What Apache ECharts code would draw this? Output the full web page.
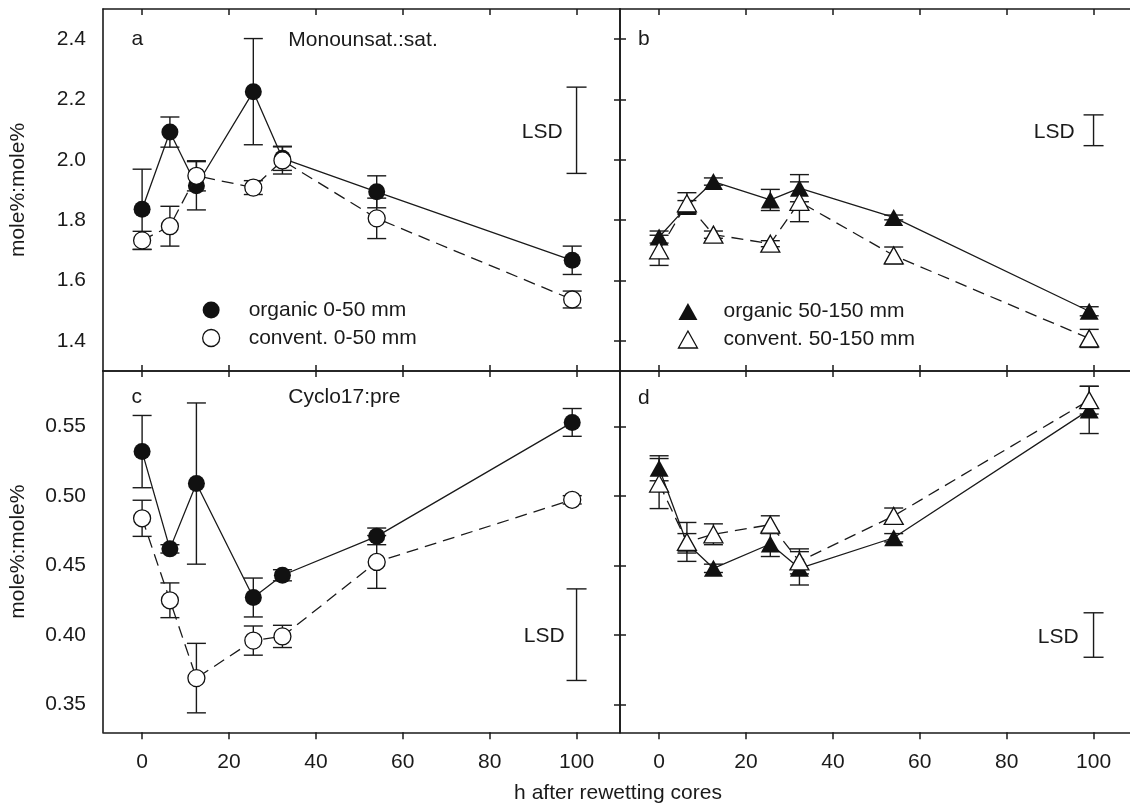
<!DOCTYPE html>
<html>
<head>
<meta charset="utf-8">
<script src="https://cdn.jsdelivr.net/npm/echarts@6/dist/echarts.min.js"></script>
<style>
html,body{margin:0;padding:0;background:#fff;}
#chart{width:1130px;height:805px;}
</style>
</head>
<body>
<div id="chart"></div>
<script>
// ---- data ----
const hours = [0, 6.4, 12.5, 25.6, 32.3, 54, 99];
const xTicks = [0, 20, 40, 60, 80, 100];
const yTicksTop = [1.4, 1.6, 1.8, 2.0, 2.2, 2.4];
const yTicksBottom = [0.35, 0.40, 0.45, 0.50, 0.55];

// panel a: Monounsat.:sat., 0-50 mm
const orgA = [1.836, 2.092, 1.914, 2.226, 2.005, 1.894, 1.667];
const orgAErr = [0.133, 0.05, 0.08, 0.176, 0.04, 0.053, 0.047];
const conA = [1.733, 1.780, 1.947, 1.908, 1.998, 1.806, 1.537];
const conAErr = [0.03, 0.066, 0.05, 0.023, 0.045, 0.067, 0.028];
// panel b: Monounsat.:sat., 50-150 mm
const orgB = [1.744, 1.845, 1.928, 1.867, 1.906, 1.809, 1.498];
const orgBErr = [0.02, 0.02, 0.012, 0.035, 0.045, 0.008, 0.015];
const conB = [1.700, 1.856, 1.752, 1.722, 1.861, 1.683, 1.408];
const conBErr = [0.05, 0.035, 0.012, 0.01, 0.066, 0.028, 0.03];
// panel c: Cyclo17:pre, 0-50 mm
const orgC = [0.532, 0.462, 0.509, 0.427, 0.443, 0.471, 0.553];
const orgCErr = [0.026, 0.003, 0.058, 0.014, 0.004, 0.006, 0.01];
const conC = [0.484, 0.425, 0.369, 0.396, 0.399, 0.4526, 0.4973];
const conCErr = [0.013, 0.0125, 0.025, 0.0105, 0.008, 0.019, 0.003];
// panel d: Cyclo17:pre, 50-150 mm
const orgD = [0.520, 0.466, 0.448, 0.4655, 0.448, 0.470, 0.562];
const orgDErr = [0.009, 0.007, 0.003, 0.009, 0.012, 0.003, 0.017];
const conD = [0.509, 0.467, 0.4725, 0.4794, 0.453, 0.4857, 0.569];
const conDErr = [0.018, 0.014, 0.0075, 0.0064, 0.009, 0.0057, 0.01];

// LSD bars [low, high] drawn at x = lsdX
const lsdX = 100;
const lsdA = [1.955, 2.241];
const lsdB = [2.047, 2.149];
const lsdC = [0.3673, 0.4332];
const lsdD = [0.384, 0.416];

const namesShallow = ['organic 0-50 mm', 'convent. 0-50 mm'];
const namesDeep = ['organic 50-150 mm', 'convent. 50-150 mm'];
const panelLetters = ['a', 'b', 'c', 'd'];
const panelTitles = ['Monounsat.:sat.', 'Cyclo17:pre'];
const yTitle = 'mole%:mole%';
const xTitle = 'h after rewetting cores';

// ---- styling / layout ----
const INK = '#1a1a1a';
const FONT = '"Liberation Sans", Arial, Helvetica, sans-serif';
const FS = 21;
const grids = [
  {left: 103, top: 9, width: 517, height: 362},
  {left: 620, top: 9, width: 517, height: 362},
  {left: 103, top: 371, width: 517, height: 361.3},
  {left: 620, top: 371, width: 517, height: 361.3}
];
const X_RANGE = [-9, 110];
const Y_TOP = [1.3, 2.5];
const Y_BOT = [0.33, 0.59];
const lsdTextGap = [14, 19, 12, 15];

const chart = echarts.init(document.getElementById('chart'), null, {renderer: 'canvas'});

const axisLine = {show: true, onZero: false, lineStyle: {color: INK, width: 1.6}};
const tickStyle = {color: INK, width: 1.5};

const xAxes = [], yAxes = [];
for (let p = 0; p < 4; p++) {
  const isBottomRow = p >= 2;
  const isLeftCol = p % 2 === 0;
  const yr = isBottomRow ? Y_BOT : Y_TOP;
  const yt = isBottomRow ? yTicksBottom : yTicksTop;
  xAxes.push({
    type: 'value', gridIndex: p, position: 'bottom', min: X_RANGE[0], max: X_RANGE[1],
    axisLine: axisLine, splitLine: {show: false},
    axisTick: {show: true, inside: !isBottomRow, length: isBottomRow ? 7 : 6, customValues: xTicks, lineStyle: tickStyle},
    axisLabel: {show: isBottomRow, customValues: xTicks, margin: 19, color: INK, fontSize: FS, fontFamily: FONT}
  });
  xAxes.push({
    type: 'value', gridIndex: p, position: 'top', min: X_RANGE[0], max: X_RANGE[1],
    axisLine: axisLine, splitLine: {show: false},
    axisTick: {show: true, inside: true, length: 6, customValues: xTicks, lineStyle: tickStyle},
    axisLabel: {show: false}
  });
  yAxes.push({
    type: 'value', gridIndex: p, position: 'left', min: yr[0], max: yr[1],
    axisLine: axisLine, splitLine: {show: false},
    axisTick: {show: !isLeftCol, inside: true, length: 6, customValues: yt, lineStyle: tickStyle},
    axisLabel: {show: isLeftCol, customValues: yt, margin: 17, color: INK, fontSize: FS, fontFamily: FONT,
      formatter: v => isBottomRow ? v.toFixed(2) : v.toFixed(1)},
    name: isLeftCol ? yTitle : '', nameLocation: 'middle', nameGap: 74,
    nameTextStyle: {color: INK, fontSize: FS, fontFamily: FONT}
  });
  yAxes.push({
    type: 'value', gridIndex: p, position: 'right', min: yr[0], max: yr[1], show: isLeftCol,
    axisLine: axisLine, splitLine: {show: false},
    axisTick: {show: true, inside: true, length: 6, customValues: yt, lineStyle: tickStyle},
    axisLabel: {show: false}
  });
}

function errRender(params, api) {
  const x = api.value(0), y = api.value(1), e = api.value(2);
  const a = api.coord([x, y + e]);
  const b = api.coord([x, y - e]);
  const hw = 9.5;
  const st = {stroke: INK, lineWidth: 1.4};
  return {type: 'group', children: [
    {type: 'line', shape: {x1: a[0], y1: a[1], x2: b[0], y2: b[1]}, style: st},
    {type: 'line', shape: {x1: a[0] - hw, y1: a[1], x2: a[0] + hw, y2: a[1]}, style: st},
    {type: 'line', shape: {x1: b[0] - hw, y1: b[1], x2: b[0] + hw, y2: b[1]}, style: st}
  ]};
}

function lsdRenderFor(p) {
  return function (params, api) {
    const x = api.value(0), lo = api.value(1), hi = api.value(2);
    const a = api.coord([x, hi]);
    const b = api.coord([x, lo]);
    const hw = 10;
    const st = {stroke: INK, lineWidth: 1.4};
    return {type: 'group', children: [
      {type: 'line', shape: {x1: a[0], y1: a[1], x2: b[0], y2: b[1]}, style: st},
      {type: 'line', shape: {x1: a[0] - hw, y1: a[1], x2: a[0] + hw, y2: a[1]}, style: st},
      {type: 'line', shape: {x1: b[0] - hw, y1: b[1], x2: b[0] + hw, y2: b[1]}, style: st},
      {type: 'text', x: a[0] - lsdTextGap[p], y: (a[1] + b[1]) / 2 + 2,
        style: {text: 'LSD', fill: INK, font: FS + 'px ' + FONT, textAlign: 'right', textVerticalAlign: 'middle', align: 'right', verticalAlign: 'middle'}}
    ]};
  };
}

const panels = [
  {org: orgA, orgErr: orgAErr, con: conA, conErr: conAErr, lsd: lsdA, names: namesShallow, sym: 'circle', size: 17},
  {org: orgB, orgErr: orgBErr, con: conB, conErr: conBErr, lsd: lsdB, names: namesDeep, sym: 'triangle', size: [19, 17]},
  {org: orgC, orgErr: orgCErr, con: conC, conErr: conCErr, lsd: lsdC, names: namesShallow, sym: 'circle', size: 17},
  {org: orgD, orgErr: orgDErr, con: conD, conErr: conDErr, lsd: lsdD, names: namesDeep, sym: 'triangle', size: [19, 17]}
];

const series = [];
panels.forEach((pn, p) => {
  const xi = 2 * p, yi = 2 * p;
  series.push({
    type: 'custom', name: 'errO' + p, xAxisIndex: xi, yAxisIndex: yi, z: 2,
    renderItem: errRender, encode: {x: 0, y: 1},
    data: hours.map((h, i) => [h, pn.org[i], pn.orgErr[i]])
  });
  series.push({
    type: 'custom', name: 'errC' + p, xAxisIndex: xi, yAxisIndex: yi, z: 2,
    renderItem: errRender, encode: {x: 0, y: 1},
    data: hours.map((h, i) => [h, pn.con[i], pn.conErr[i]])
  });
  series.push({
    type: 'line', name: pn.names[0], xAxisIndex: xi, yAxisIndex: yi, z: 3,
    data: hours.map((h, i) => [h, pn.org[i]]),
    symbol: pn.sym, symbolSize: pn.size, showSymbol: true,
    lineStyle: {color: INK, width: 1.3, type: 'solid'},
    itemStyle: {color: '#111', borderWidth: 0},
    emphasis: {disabled: true}
  });
  series.push({
    type: 'line', name: pn.names[1], xAxisIndex: xi, yAxisIndex: yi, z: 4,
    data: hours.map((h, i) => [h, pn.con[i]]),
    symbol: pn.sym, symbolSize: pn.size, showSymbol: true,
    lineStyle: {color: INK, width: 1.3, type: [12, 7]},
    itemStyle: {color: '#fff', borderColor: '#111', borderWidth: 1.3},
    emphasis: {disabled: true}
  });
  series.push({
    type: 'custom', name: 'lsd' + p, xAxisIndex: xi, yAxisIndex: yi, z: 2,
    renderItem: lsdRenderFor(p), encode: {x: 0, y: 1},
    data: [[lsdX, pn.lsd[0], pn.lsd[1]]]
  });
});

function txt(x, y, text, align) {
  return {type: 'text', x: x, y: y, silent: true,
    style: {text: text, fill: INK, font: FS + 'px ' + FONT, textAlign: align || 'left', textVerticalAlign: 'middle', align: align || 'left', verticalAlign: 'middle'}};
}

const legendText = {color: INK, fontSize: FS, fontFamily: FONT};

const option = {
  animation: false,
  backgroundColor: '#fff',
  grid: grids.map(g => Object.assign({containLabel: false, outerBoundsMode: 'none'}, g)),
  xAxis: xAxes,
  yAxis: yAxes,
  legend: [
    {
      orient: 'vertical', left: 202, top: 299.5, padding: 0, itemGap: 7,
      itemWidth: 17, itemHeight: 17, selectedMode: false,
      textStyle: Object.assign({padding: [0, 0, 0, 24]}, legendText),
      data: [
        {name: namesShallow[0], icon: 'circle', itemStyle: {color: '#111', borderWidth: 0}},
        {name: namesShallow[1], icon: 'circle', itemStyle: {color: '#fff', borderColor: '#111', borderWidth: 1.3}}
      ]
    },
    {
      orient: 'vertical', left: 677.8, top: 301, padding: 0, itemGap: 7,
      itemWidth: 19, itemHeight: 17, selectedMode: false, symbolKeepAspect: false,
      textStyle: Object.assign({padding: [0, 0, 0, 21]}, legendText),
      data: [
        {name: namesDeep[0], icon: 'triangle', itemStyle: {color: '#111', borderWidth: 0}},
        {name: namesDeep[1], icon: 'triangle', itemStyle: {color: '#fff', borderColor: '#111', borderWidth: 1.3}}
      ]
    }
  ],
  graphic: [
    txt(131.5, 39.5, panelLetters[0]),
    txt(638, 39.5, panelLetters[1]),
    txt(131.5, 397.7, panelLetters[2]),
    txt(638, 398, panelLetters[3]),
    txt(288.3, 40.5, panelTitles[0]),
    txt(288.3, 397.7, panelTitles[1]),
    txt(618, 793, xTitle, 'center')
  ],
  series: series
};
chart.setOption(option);
</script>
</body>
</html>
